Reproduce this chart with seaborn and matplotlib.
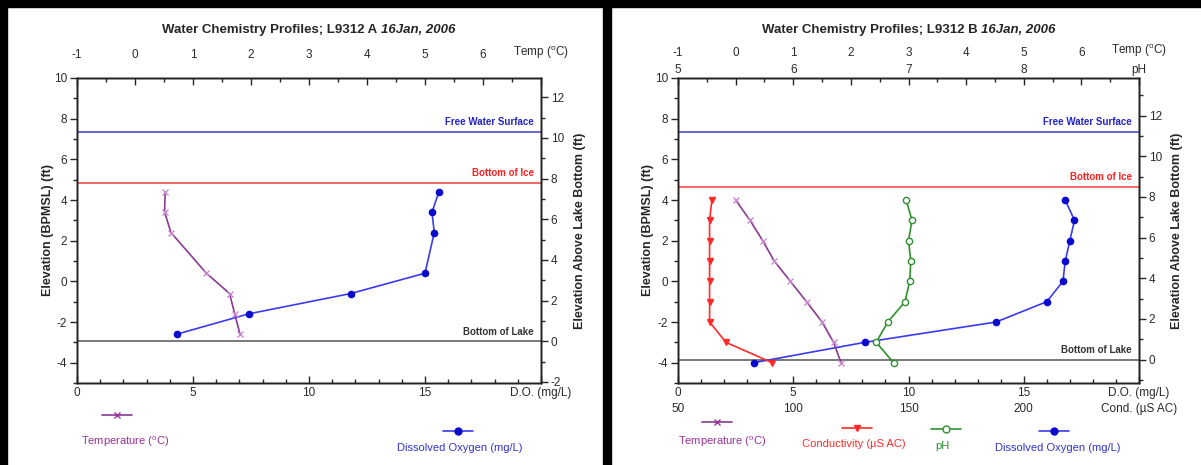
import numpy as np
import matplotlib
matplotlib.use("Agg")
import matplotlib.pyplot as plt
import seaborn as sns
from matplotlib.lines import Line2D
from matplotlib.patches import Rectangle
from matplotlib.ticker import MultipleLocator, FixedLocator, NullLocator

# ---------------- data ----------------
# Panel A (L9312 A)
elev_a = [4.4, 3.4, 2.4, 0.4, -0.6, -1.6, -2.6]
temp_a = [0.52, 0.51, 0.62, 1.23, 1.63, 1.72, 1.81]
do_a = [15.6, 15.3, 15.4, 15.0, 11.8, 7.4, 4.3]
levels_a = [7.36, 4.85, -2.95]          # free water surface, bottom of ice, bottom of lake

# Panel B (L9312 B)
elev_b = [4, 3, 2, 1, 0, -1, -2, -3, -4]
temp_b = [0.0, 0.25, 0.47, 0.67, 0.95, 1.23, 1.50, 1.70, 1.83]
cond_b = [64.7, 63.7, 63.7, 63.7, 63.7, 63.7, 63.7, 70.8, 90.8]
ph_b = [6.98, 7.03, 7.00, 7.02, 7.01, 6.97, 6.82, 6.72, 6.87]
do_b = [16.8, 17.2, 17.0, 16.8, 16.7, 16.0, 13.8, 8.1, 3.3]
levels_b = [7.36, 4.65, -3.85]

level_names = ["Free Water Surface", "Bottom of Ice", "Bottom of Lake"]
do_ticks = [0, 5, 10, 15, 20]
do_labels = ["0", "5", "10", "15", "D.O. (mg/L)"]
temp_ticks = [-1, 0, 1, 2, 3, 4, 5, 6, 7]
temp_labels = ["-1", "0", "1", "2", "3", "4", "5", "6", r"Temp ($^{\mathrm{o}}$C)"]
cond_ticks = [50, 100, 150, 200, 250]
cond_labels = ["50", "100", "150", "200", "Cond. (µS AC)"]
ph_ticks = [5, 6, 7, 8, 9]
ph_labels = ["5", "6", "7", "8", "pH"]

# ---------------- style ----------------
sns.set_style("white")
plt.rcParams["font.family"] = ["Liberation Sans", "DejaVu Sans"]
plt.rcParams["mathtext.fontset"] = "custom"
plt.rcParams["mathtext.rm"] = "Liberation Sans"
plt.rcParams["mathtext.it"] = "Liberation Sans:italic"
plt.rcParams["mathtext.bf"] = "Liberation Sans:bold"
plt.rcParams["axes.edgecolor"] = "#222222"
plt.rcParams["axes.linewidth"] = 1.0
plt.rcParams["axes.unicode_minus"] = False

TICK_FS = 8.5
TICK_C = "#2a2a2a"
C_TEMP_L = "#8a3a92"
C_TEMP_M = "#c98ad0"
C_TEMP_T = "#993399"
C_DO_L = "#3a3aee"
C_DO_M = "#0a0acc"
C_DO_T = "#3333cc"
C_COND = "#ff2a2a"
C_PH = "#2f8f2f"
LEVEL_COLORS = ["#3a3ad0", "#ff3a3a", "#555555"]
LEVEL_TEXT = ["#2424c8", "#ff2020", "#333333"]
MS = 4.5

W, H = 1201, 465
fig = plt.figure(figsize=(W / 100, H / 100), dpi=100)


def px(x, y):
    return x / W, 1 - y / H


def setup_panel(left_px, width_px, levels):
    ax = fig.add_axes([left_px / W, 82 / H, width_px / W, 305 / H])
    ax.set_xlim(0, 20)
    ax.set_ylim(-5, 10)
    # bottom DO axis
    ax.xaxis.set_major_locator(FixedLocator(do_ticks))
    ax.set_xticklabels(do_labels)
    ax.xaxis.set_minor_locator(MultipleLocator(1))
    ax.tick_params(axis="x", which="both", direction="in", bottom=True, top=False,
                   labelsize=TICK_FS, labelcolor=TICK_C, pad=3)
    ax.tick_params(axis="x", which="major", length=5, width=1)
    ax.tick_params(axis="x", which="minor", length=3, width=1)
    # left elevation axis
    ax.yaxis.set_major_locator(MultipleLocator(2))
    ax.yaxis.set_minor_locator(MultipleLocator(1))
    ax.tick_params(axis="y", which="both", direction="out", left=True, right=False,
                   labelsize=TICK_FS, labelcolor=TICK_C, pad=2)
    ax.tick_params(axis="y", which="major", length=5, width=1)
    ax.tick_params(axis="y", which="minor", length=3, width=1)
    # right axis: elevation above lake bottom
    bol = levels[2]
    axr = ax.twinx()
    axr.set_ylim(-5 - bol, 10 - bol)
    axr.yaxis.set_major_locator(MultipleLocator(2))
    axr.yaxis.set_minor_locator(MultipleLocator(1))
    axr.tick_params(axis="y", which="both", direction="out", labelsize=TICK_FS,
                    labelcolor=TICK_C, pad=2)
    axr.tick_params(axis="y", which="major", length=5, width=1)
    axr.tick_params(axis="y", which="minor", length=3, width=1)
    axr.set_ylabel("Elevation Above Lake Bottom (ft)", fontsize=9, fontweight="bold",
                   rotation=90)
    axr.yaxis.set_label_coords(1.072, 0.5)
    # top temperature axis
    axt = ax.twiny()
    axt.set_xlim(-1, 7)
    axt.xaxis.set_major_locator(FixedLocator(temp_ticks))
    axt.set_xticklabels(temp_labels)
    axt.xaxis.set_minor_locator(MultipleLocator(0.5))
    axt.tick_params(axis="x", which="both", direction="in", top=True, bottom=False,
                    labelsize=TICK_FS, labelcolor=TICK_C)
    axt.tick_params(axis="x", which="major", length=5, width=1)
    axt.tick_params(axis="x", which="minor", length=3, width=1)
    # reference levels
    for lev, name, lc, tc in zip(levels, level_names, LEVEL_COLORS, LEVEL_TEXT):
        ax.axhline(lev, color=lc, lw=1.1, zorder=1)
        ax.text(0.985, lev + 0.22, name, transform=ax.get_yaxis_transform(),
                ha="right", va="bottom", fontsize=7, fontweight="bold", color=tc)
    return ax, axr, axt


def draw_series(ax, x, y, line_c, marker, ms, mfc, mec, mew=1.0):
    sns.lineplot(x=np.asarray(x), y=np.asarray(y), ax=ax, orient="y", sort=False,
                 estimator=None, color=line_c, lw=1.2, marker=marker, markersize=ms,
                 markerfacecolor=mfc, markeredgecolor=mec, markeredgewidth=mew)


def title(ax, main, date):
    bb = ax.get_position()
    xc = (bb.x0 + bb.x1) / 2
    y = 1 - 30 / H
    t1 = fig.text(0, y, main, fontsize=9.5, fontweight="bold", ha="left", va="center")
    t2 = fig.text(0, y, date, fontsize=9.5, fontweight="bold", style="italic",
                  ha="left", va="center")
    fig.canvas.draw()
    r = fig.canvas.get_renderer()
    w1 = t1.get_window_extent(r).width / fig.bbox.width
    w2 = t2.get_window_extent(r).width / fig.bbox.width
    gap = 3.5 / W
    x0 = xc - (w1 + gap + w2) / 2
    t1.set_x(x0)
    t2.set_x(x0 + w1 + gap)


def legend_key(kx, ky, line_c, marker, ms, mfc, mec, text, tx, ty, tc):
    x0, y0 = px(kx - 15, ky)
    x1, _ = px(kx + 15, ky)
    fig.add_artist(Line2D([x0, x1], [y0, y0], transform=fig.transFigure,
                          color=line_c, lw=1.2))
    fig.add_artist(Line2D([(x0 + x1) / 2], [y0], transform=fig.transFigure, ls="none",
                          marker=marker, markersize=ms, markerfacecolor=mfc,
                          markeredgecolor=mec, markeredgewidth=1.0))
    fig.text(*px(tx, ty), text, ha="center", va="center", fontsize=8, color=tc)


# ---------------- Panel A ----------------
axA, axAr, axAt = setup_panel(77, 464, levels_a)
axAt.tick_params(axis="x", pad=12)
draw_series(axAt, temp_a, elev_a, C_TEMP_L, "x", MS, C_TEMP_M, C_TEMP_M)
draw_series(axA, do_a, elev_a, C_DO_L, "o", MS, C_DO_M, C_DO_M)
for a in (axA, axAt):
    a.set_ylim(-5, 10)
axA.set_xlim(0, 20)
axAt.set_xlim(-1, 7)
axA.set_xlabel("")
axAt.set_xlabel("")

# ---------------- Panel B ----------------
axB, axBr, axBt = setup_panel(678, 461, levels_b)
axBt.tick_params(axis="x", pad=13.5)
axBr.yaxis.set_label_coords(1.069, 0.5)
axBr.set_ylim(-5 - levels_b[2], 10 - levels_b[2])

# pH labels on top (second row)
axBp = axB.twiny()
axBp.set_xlim(5, 9)
axBp.xaxis.set_major_locator(FixedLocator(ph_ticks))
axBp.set_xticklabels(ph_labels)
axBp.xaxis.set_minor_locator(NullLocator())
axBp.tick_params(axis="x", which="both", top=True, bottom=False, length=0,
                 labelsize=TICK_FS, labelcolor=TICK_C, pad=1.5)
for s in axBp.spines.values():
    s.set_visible(False)

# conductivity labels on bottom (second row)
axBc = axB.twiny()
axBc.set_xlim(50, 250)
axBc.xaxis.set_ticks_position("bottom")
axBc.xaxis.set_major_locator(FixedLocator(cond_ticks))
axBc.set_xticklabels(cond_labels)
axBc.xaxis.set_minor_locator(NullLocator())
axBc.tick_params(axis="x", which="both", top=False, bottom=True, labeltop=False,
                 labelbottom=True, length=0, labelsize=TICK_FS, labelcolor=TICK_C,
                 pad=14.5)
for s in axBc.spines.values():
    s.set_visible(False)

draw_series(axBc, cond_b, elev_b, C_COND, "v", MS, C_COND, C_COND)
draw_series(axBt, temp_b, elev_b, C_TEMP_L, "x", MS, C_TEMP_M, C_TEMP_M)
draw_series(axBp, ph_b, elev_b, C_PH, "o", MS, "white", C_PH)
draw_series(axB, do_b, elev_b, C_DO_L, "o", MS, C_DO_M, C_DO_M)
for a in (axB, axBt, axBp, axBc):
    a.set_ylim(-5, 10)
    a.set_xlabel("")
axB.set_xlim(0, 20)
axBt.set_xlim(-1, 7)
axBp.set_xlim(5, 9)
axBc.set_xlim(50, 250)
axA.set_ylabel("Elevation (BPMSL) (ft)", fontsize=9, fontweight="bold")
axB.set_ylabel("Elevation (BPMSL) (ft)", fontsize=9, fontweight="bold")
axA.yaxis.set_label_coords(-0.050, 0.5)
axB.yaxis.set_label_coords(-0.052, 0.5)

# ---------------- titles ----------------
title(axA, "Water Chemistry Profiles; L9312 A", "16Jan, 2006")
title(axB, "Water Chemistry Profiles; L9312 B", "16Jan, 2006")

# ---------------- legends ----------------
temp_lbl = r"Temperature ($^{\mathrm{o}}$C)"
legend_key(117, 415, C_TEMP_L, "x", 5, C_TEMP_T, C_TEMP_T, temp_lbl, 125, 442, C_TEMP_T)
legend_key(458, 431, C_DO_L, "o", 5, C_DO_M, C_DO_M, "Dissolved Oxygen (mg/L)", 460, 448, C_DO_T)

legend_key(717, 422, C_TEMP_L, "x", 5, C_TEMP_T, C_TEMP_T, temp_lbl, 722, 442, C_TEMP_T)
legend_key(857, 428, C_COND, "v", 5, C_COND, C_COND, "Conductivity (µS AC)", 854, 444, C_COND)
legend_key(946, 429, C_PH, "o", 5, "white", C_PH, "pH", 942, 446, C_PH)
legend_key(1054, 431, C_DO_L, "o", 5, C_DO_M, C_DO_M, "Dissolved Oxygen (mg/L)", 1058, 448, C_DO_T)

# ---------------- frame bars ----------------
fig.add_artist(Rectangle((0, 1 - 7 / H), 1, 7 / H, transform=fig.transFigure,
                         color="black", zorder=10))
fig.add_artist(Rectangle((0, 0), 7 / W, 1, transform=fig.transFigure,
                         color="black", zorder=10))
fig.add_artist(Rectangle((603 / W, 0), 8 / W, 1, transform=fig.transFigure,
                         color="black", zorder=10))

fig.savefig("out.png", dpi=100)
